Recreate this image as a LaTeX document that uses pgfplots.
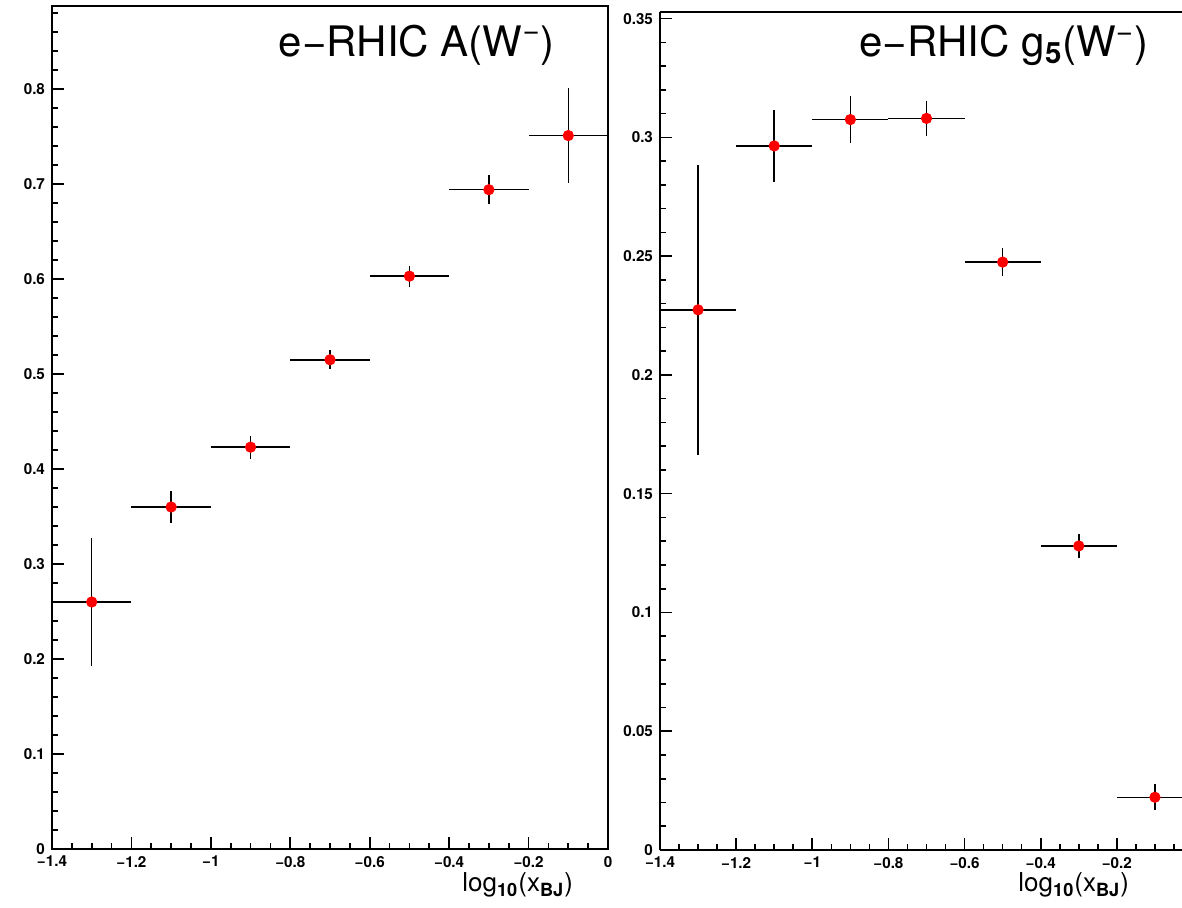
\documentclass[border=0pt]{standalone}
\usepackage{pgfplots}
\pgfplotsset{compat=1.18}
\usepackage{fontspec}
\setmainfont{TeX Gyre Heros}
\pgfplotstableread{
x y ex ey
-1.3 0.260 0.1 0.067
-1.1 0.360 0.1 0.017
-0.9 0.423 0.1 0.012
-0.7 0.515 0.1 0.010
-0.5 0.603 0.1 0.011
-0.3 0.694 0.1 0.015
-0.1 0.751 0.1 0.050
}\tA
\pgfplotstableread{
x y ex ey
-1.3 0.2274 0.1 0.061
-1.1 0.2964 0.1 0.015
-0.9 0.3075 0.1 0.010
-0.7 0.3080 0.1 0.0075
-0.5 0.2475 0.1 0.006
-0.3 0.1280 0.1 0.005
-0.1 0.0222 0.1 0.0055
}\tB
\begin{document}
\begin{tikzpicture}[x=1pt,y=1pt]
\path[use as bounding box] (0,0) rectangle (591,454);
\clip (0,0) rectangle (591,454);
\pgfplotsset{
  rootstyle/.style={
    scale only axis,
    anchor=south west,
    axis line style={line width=0.9pt},
    tick style={line width=0.8pt, black},
    major tick length=6pt,
    minor tick length=3.2pt,
    tick align=inside,
    xtick pos=bottom,
    ytick pos=left,
    ticklabel style={font=\bfseries\fontsize{7.6}{8}\selectfont},
    clip=true,
  },
  ptstyle/.style={
    only marks,
    mark=*,
    mark size=2.6pt,
    mark options={fill=red, draw=red},
    error bars/.cd,
      x dir=both, x explicit,
      y dir=both, y explicit,
      error mark=none,
      error bar style={line width=0.75pt, black},
  },
}
% ---------- left panel ----------
\begin{axis}[rootstyle,
  at={(26pt,29.5pt)},
  width=278pt, height=421.5pt,
  xmin=-1.4, xmax=0, ymin=0, ymax=0.8874,
  xtick={-1.4,-1.2,-1,-0.8,-0.6,-0.4,-0.2,0},
  xticklabels={−1.4,−1.2,−1,−0.8,−0.6,−0.4,−0.2,0},
  minor xtick={-1.35,-1.3,-1.25,-1.15,-1.1,-1.05,-0.95,-0.9,-0.85,-0.75,-0.7,-0.65,-0.55,-0.5,-0.45,-0.35,-0.3,-0.25,-0.15,-0.1,-0.05},
  ytick={0,0.1,0.2,0.3,0.4,0.5,0.6,0.7,0.8},
  yticklabels={0,0.1,0.2,0.3,0.4,0.5,0.6,0.7,0.8},
  minor ytick={0.02,0.04,0.06,0.08,0.12,0.14,0.16,0.18,0.22,0.24,0.26,0.28,0.32,0.34,0.36,0.38,0.42,0.44,0.46,0.48,0.52,0.54,0.56,0.58,0.62,0.64,0.66,0.68,0.72,0.74,0.76,0.78,0.82,0.84,0.86,0.88},
]
\addplot[ptstyle] table[x=x, y=y, x error=ex, y error=ey] {\tA};
\node[font=\fontsize{21}{24}\selectfont] at (rel axis cs:0.656,0.954) {e−RHIC A(W\textsuperscript{−})};
\end{axis}
\node[anchor=east, font=\fontsize{13}{15}\selectfont] at (290pt,11.5pt) {log\textsubscript{\bfseries 10}(x\textsubscript{\bfseries BJ})};
% ---------- right panel ----------
\begin{axis}[rootstyle,
  at={(330pt,29pt)},
  width=266.5pt, height=419pt,
  axis x line*=box, axis y line*=left,
  xmin=-1.4, xmax=0, ymin=0, ymax=0.3528,
  xtick={-1.4,-1.2,-1,-0.8,-0.6,-0.4,-0.2},
  xticklabels={−1.4,−1.2,−1,−0.8,−0.6,−0.4,−0.2},
  minor xtick={-1.35,-1.3,-1.25,-1.15,-1.1,-1.05,-0.95,-0.9,-0.85,-0.75,-0.7,-0.65,-0.55,-0.5,-0.45,-0.35,-0.3,-0.25,-0.15,-0.1,-0.05},
  ytick={0,0.05,0.1,0.15,0.2,0.25,0.3,0.35},
  yticklabels={0,0.05,0.1,0.15,0.2,0.25,0.3,0.35},
  minor ytick={0.01,0.02,0.03,0.04,0.06,0.07,0.08,0.09,0.11,0.12,0.13,0.14,0.16,0.17,0.18,0.19,0.21,0.22,0.23,0.24,0.26,0.27,0.28,0.29,0.31,0.32,0.33,0.34},
]
\addplot[ptstyle] table[x=x, y=y, x error=ex, y error=ey] {\tB};
\node[font=\fontsize{21}{24}\selectfont] at (rel axis cs:0.645,0.96) {e−RHIC g\textsubscript{\bfseries 5}(W\textsuperscript{−})};
\end{axis}
\node[anchor=east, font=\fontsize{13}{15}\selectfont] at (568pt,11.5pt) {log\textsubscript{\bfseries 10}(x\textsubscript{\bfseries BJ})};
\end{tikzpicture}
\end{document}
